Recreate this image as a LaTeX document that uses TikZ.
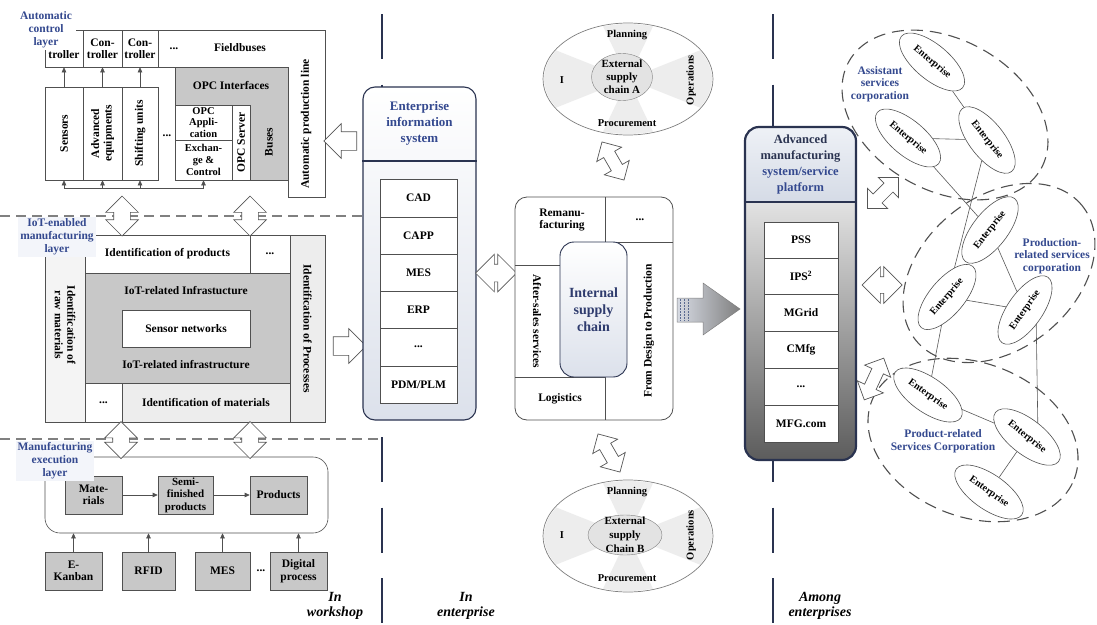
\documentclass[tikz,border=0pt]{standalone}
\usepackage{fontspec}
\setmainfont{Liberation Serif}
\usetikzlibrary{shapes.geometric,shapes.arrows,arrows.meta,backgrounds,calc}
\definecolor{navy}{HTML}{2A3350}
\definecolor{labblue}{HTML}{34498F}
\definecolor{iscblue}{HTML}{2F3C6E}
\definecolor{bd}{HTML}{505050}
\definecolor{gfill}{HTML}{C8C8C8}
\definecolor{lgfill}{HTML}{EDEDED}
\definecolor{labbg}{HTML}{F3F5FA}
\definecolor{entbg}{HTML}{DCE1EB}
\definecolor{arrline}{HTML}{555555}
\definecolor{gaL}{HTML}{D6DAE3}
\definecolor{gaR}{HTML}{7F7F7F}
\definecolor{gaS}{HTML}{5A6A90}
\definecolor{atT}{HTML}{EEF1F6}
\definecolor{atB}{HTML}{D5DBE6}
\definecolor{abT}{HTML}{E2E2E2}
\definecolor{abB}{HTML}{5C5C5C}
\newcommand{\mycell}[7][]{\node[cell,#1,minimum width={#5-#3},minimum height={#6-#4}] (#2) at ({(#3+#5)/2},{(#4+#6)/2}) {#7};}
\begin{document}
\begin{tikzpicture}[x=1pt,y=-1pt,
  txt/.style={font=\fontsize{11.5}{12.5}\selectfont\bfseries, align=center, inner sep=0pt},
  stxt/.style={font=\fontsize{10.5}{12}\selectfont\bfseries, align=center, inner sep=0pt},
  itxt/.style={font=\fontsize{14}{15}\selectfont\bfseries\itshape, align=center, inner sep=0pt},
  cell/.style={draw=bd, line width=0.6pt, fill=white, txt},
  lab/.style={txt, text=labblue, fill=labbg, inner sep=2pt, font=\fontsize{11.5}{13}\selectfont\bfseries},
  sarr/.style={-{Triangle[length=5pt,width=4.5pt]}, draw=bd, line width=0.6pt},
  oarr/.style={draw=arrline, fill=white, line width=0.7pt, inner xsep=0pt},
  vdbl/.style={oarr, double arrow, inner ysep=8pt, minimum width=32pt, double arrow head extend=8pt, rotate=90},
  ent/.style={ellipse, draw=bd, fill=white, line width=0.6pt, minimum width=80pt, minimum height=35pt, inner sep=0pt, font=\fontsize{10}{11}\selectfont\bfseries},
  grp/.style={ellipse, draw=bd, dash pattern=on 12pt off 7pt, line width=1.1pt, inner sep=0pt},
  sepline/.style={draw=navy, line width=2.8pt, dash pattern=on 45pt off 25.5pt},
  hsep/.style={draw=gray, line width=1.1pt, dash pattern=on 10pt off 6pt},
  net/.style={draw=gray!70!black, line width=0.6pt},
  frame/.style={draw=bd, line width=0.6pt}
]
\useasboundingbox (0,0) rectangle (1097,624);
\begin{scope}[on background layer]
\fill[white] (0,0) rectangle (1097,624);
\end{scope}

% separators
\draw[hsep] (0,216) -- (382,216);
\draw[hsep] (0,439) -- (382,439);
\draw[sepline] (382,14) -- (382,624);
\draw[sepline] (773,14) -- (773,624);

% ===== Automatic control layer
\draw[frame] (45,67) -- (45,30) -- (325,30) -- (325,197) -- (288,197) -- (288,67);
\draw[frame] (45,67) -- (175,67);
\mycell{ctlA}{45}{30}{83}{67}{Con-\\troller}
\mycell{ctlB}{83}{30}{122}{67}{Con-\\troller}
\mycell{ctlC}{122}{30}{158}{67}{Con-\\troller}
\node[txt] (fdots) at (174,49) {...};
\node[txt] (fbus) at (240,48) {Fieldbuses};
\mycell[fill=gfill]{opc}{175}{67}{288}{180}{}
\node[txt] (opct) at (231,86) {OPC Interfaces};
\mycell[font=\fontsize{10.5}{11.5}\selectfont\bfseries]{opcapp}{175}{105}{232}{140}{OPC\\Appli-\\cation}
\mycell[font=\fontsize{10.5}{12}\selectfont\bfseries]{exch}{175}{140}{232}{180}{Exchan-\\ge \&\\Control}
\mycell{opcsrv}{232}{105}{250}{180}{}
\node[txt, rotate=90] (opcsrvt) at (opcsrv) {OPC Server};
\node[txt, rotate=90] (buses) at (269,142) {Buses};
\mycell{sens}{45}{87}{83}{180}{}
\node[txt, rotate=90] (senst) at (sens) {Sensors};
\mycell{adv}{83}{87}{122}{180}{}
\node[txt, rotate=90] (advt) at (adv) {Advanced\\equipments};
\mycell{shift}{122}{87}{158}{180}{}
\node[txt, rotate=90] (shiftt) at (shift) {Shifting units};
\node[txt] (sdots) at (167,136) {...};
\node[txt, rotate=90] (apl) at (306,124) {Automatic production line};
\draw[sarr] (sens.north) -- (ctlA.south);
\draw[sarr] (adv.north) -- (ctlB.south);
\draw[sarr] (shift.north) -- (ctlC.south);
\coordinate (busy) at (0,188);
\draw[frame] (sens.south |- busy) -- (exch.south |- busy);
\foreach \n in {sens,adv,shift,exch} \draw[sarr] (\n.south |- busy) -- (\n.south);
\node[lab, fill=white, inner xsep=4pt] (aclab) at (46,30) {Automatic\\control\\layer};

% ===== IoT-enabled layer
\mycell[fill=lgfill!60]{raw}{45}{235}{85}{422}{}
\node[txt, rotate=-90] (rawt) at (65,325) {Identification of\\raw materials};
\mycell{prod}{85}{235}{250}{273}{Identification of products}
\mycell{pdots}{250}{235}{290}{273}{...}
\mycell[fill=lgfill]{proc}{290}{235}{325}{422}{}
\node[txt, rotate=-90] (proct) at (proc) {Identification of Processes};
\mycell[fill=gfill]{iot}{85}{273}{290}{383}{}
\node[txt] (iot1) at (186,291) {IoT-related Infrastucture};
\mycell{sn}{122}{310}{250}{347}{Sensor networks}
\node[txt] (iot2) at (186,365) {IoT-related infrastructure};
\mycell{mdots}{85}{383}{122}{422}{...}
\mycell[fill=lgfill]{mat}{122}{383}{290}{422}{Identification of materials}
\node[lab] (iotlab) at (57,237) {IoT-enabled\\manufacturing\\layer};

% ===== Manufacturing execution layer
\node[draw=bd, line width=0.6pt, rounded corners=15pt, minimum width=283, minimum height=76, fill=white] (mex) at (186.5,495) {};
\mycell[fill=gfill]{mats}{65}{476}{122}{514}{Mate-\\rials}
\mycell[fill=gfill, font=\fontsize{11}{12.5}\selectfont\bfseries]{semi}{158}{476}{213}{514}{Semi-\\finished\\products}
\mycell[fill=gfill]{prods}{250}{476}{307}{514}{Products}
\draw[sarr] (mats) -- (semi);
\draw[sarr] (semi) -- (prods);
\mycell[fill=gfill]{ekan}{45}{552}{102}{590}{E-\\Kanban}
\mycell[fill=gfill]{rfid}{122}{552}{175}{590}{RFID}
\mycell[fill=gfill]{bmes}{195}{552}{250}{590}{MES}
\node[txt] (bdots) at (261,571) {...};
\mycell[fill=gfill]{dig}{270}{552}{327}{590}{Digital\\process}
\foreach \n in {ekan,rfid,bmes,dig} \draw[sarr] (\n.north) -- (\n.north |- mex.south);
\node[lab] (mexlab) at (55,461) {Manufacturing\\execution\\layer};

% vertical double arrows between layers
\node[vdbl, minimum height=40pt] (va1) at (122,216) {};
\node[vdbl, minimum height=40pt] (va2) at (250,216) {};
\node[vdbl, minimum height=37pt] (vb1) at (121,440) {};
\node[vdbl, minimum height=37pt] (vb2) at (250,440) {};

% arrows to/from enterprise system
\node[oarr, single arrow, inner ysep=9pt, minimum height=33pt, minimum width=34pt, single arrow head extend=8pt, rotate=180] (larr) at (345,141) {};
\node[oarr, single arrow, inner ysep=9pt, minimum height=33pt, minimum width=34pt, single arrow head extend=8pt] (rarr) at (345,346) {};

% ===== Enterprise information system
\node[draw=navy, line width=1.1pt, rounded corners=12pt, minimum width=113, minimum height=333, top color=white, bottom color=entbg] (ebox) at (419.5,253.5) {};
\coordinate (etl) at (0,161);
\draw[draw=navy, line width=1.1pt] (ebox.west |- etl) -- (ebox.east |- etl);
\node[txt, text=labblue, font=\fontsize{13}{16}\selectfont\bfseries] (etitle) at (419.5,123) {Enterprise\\information\\system};
\mycell{cad}{380}{179}{457}{217}{CAD}
\mycell{capp}{380}{217}{457}{254}{CAPP}
\mycell{emes}{380}{254}{457}{291}{MES}
\mycell{erp}{380}{291}{457}{328}{ERP}
\mycell{edots}{380}{328}{457}{366}{...}
\mycell{pdm}{380}{366}{457}{403}{PDM/PLM}

\node[oarr, double arrow, inner ysep=8.5pt, minimum height=41pt, minimum width=37pt, double arrow head extend=10pt] (eia) at (496,273) {};

% ===== Internal supply chain
\node[draw=bd, line width=0.8pt, rounded corners=12pt, minimum width=158, minimum height=223, fill=white] (ibox) at (594,308.5) {};
\draw[frame] (605,197) -- (605,242) -- (673,242);
\draw[frame] (515,265) -- (560,265);
\draw[frame] (515,377) -- (605,377) -- (605,420);
\node[draw=navy, line width=0.9pt, rounded corners=14pt, minimum width=67, minimum height=135, top color=white, bottom color=entbg] (isc) at (593.5,309.5) {};
\node[txt, text=iscblue, font=\fontsize{14}{17}\selectfont\bfseries] (isct) at (isc) {Internal\\supply\\chain};
\node[txt] (reman) at (562,220) {Remanu-\\facturing};
\node[txt] (idots) at (640,220) {...};
\node[txt, rotate=-90] (after) at (537,321) {After-sales services};
\node[txt] (logis) at (560,399) {Logistics};
\node[txt, rotate=90] (fdp) at (649,331) {From Design to Production};

% ===== External supply chain A
\node[ellipse, draw=gray, fill=white, line width=0.7pt, minimum width=170, minimum height=112, inner sep=0pt] (scA) at (628,79) {};
\begin{scope}
\clip (628,79) ellipse [x radius=84pt, y radius=55pt];
\fill[gray!14] (628,79) -- (530,40) -- (530,118) -- cycle;
\fill[gray!14] (628,79) -- (726,40) -- (726,118) -- cycle;
\fill[gray!14] (628,79) -- (600,20) -- (656,20) -- cycle;
\fill[gray!14] (628,79) -- (600,138) -- (656,138) -- cycle;
\end{scope}
\node[ellipse, draw=gray, fill=gray!22, minimum width=61, minimum height=47, inner sep=0pt] (scAin) at (622,77) {};
\node[txt, font=\fontsize{11}{13}\selectfont\bfseries] (scAt) at (scAin) {External\\supply\\chain A};
\node[stxt] (planA) at (627,35) {Planning};
\node[stxt] (procA) at (627,123) {Procurement};
\node[stxt, rotate=90] (operA) at (691,80) {Operations};
\node[stxt] (iA) at (562,80) {I};
\node[oarr, double arrow, inner ysep=6pt, minimum height=44pt, minimum width=28pt, double arrow head extend=8pt, rotate=-60] (aarr) at (613,161) {};

% ===== External supply chain B
\node[ellipse, draw=gray, fill=white, line width=0.7pt, minimum width=170, minimum height=112, inner sep=0pt] (scB) at (628,536) {};
\begin{scope}
\clip (628,536) ellipse [x radius=84pt, y radius=55pt];
\fill[gray!14] (628,536) -- (530,497) -- (530,575) -- cycle;
\fill[gray!14] (628,536) -- (726,497) -- (726,575) -- cycle;
\fill[gray!14] (628,536) -- (600,477) -- (656,477) -- cycle;
\fill[gray!14] (628,536) -- (600,595) -- (656,595) -- cycle;
\end{scope}
\node[ellipse, draw=gray, fill=gray!22, minimum width=74, minimum height=40, inner sep=0pt] (scBin) at (625,535) {};
\node[txt, font=\fontsize{11}{14}\selectfont\bfseries] (scBt) at (scBin) {External\\supply\\Chain B};
\node[stxt] (planB) at (627,492) {Planning};
\node[stxt] (procB) at (627,578) {Procurement};
\node[stxt, rotate=90] (operB) at (691,535) {Operations};
\node[stxt] (iB) at (562,535) {I};
\node[oarr, double arrow, inner ysep=6pt, minimum height=44pt, minimum width=28pt, double arrow head extend=8pt, rotate=-60] (barr) at (609,453) {};

% ===== gradient arrow
\shade[left color=gaL, right color=gaR, draw=gray, line width=0.5pt] (677,298) -- (703,298) -- (703,283) -- (740,309) -- (703,335) -- (703,322) -- (677,322) -- cycle;
\foreach \xx in {680,684,688} \draw[draw=gaS, line width=0.5pt, dash pattern=on 2pt off 1pt] (\xx,299) -- (\xx,321);

% ===== Advanced manufacturing system
\begin{scope}
\clip[rounded corners=14pt] (745,127) rectangle (856,460);
\shade[top color=atT, bottom color=atB] (745,127) rectangle (856,202);
\shade[top color=abT, bottom color=abB] (745,202) rectangle (856,460);
\end{scope}
\node[draw=navy, line width=2.2pt, rounded corners=14pt, minimum width=111, minimum height=333] (abox) at (800.5,293.5) {};
\coordinate (atl) at (0,202);
\draw[draw=navy, line width=1.1pt] (abox.west |- atl) -- (abox.east |- atl);
\node[txt, text=navy, font=\fontsize{12.5}{16}\selectfont\bfseries] (atitle) at (800.5,164) {Advanced\\manufacturing\\\textcolor{labblue}{system/service}\\\textcolor{labblue}{platform}};
\mycell{pss}{764}{222}{838}{258}{PSS}
\mycell{ips}{764}{258}{838}{294}{IPS\textsuperscript{2}}
\mycell{mgrid}{764}{294}{838}{331}{MGrid}
\mycell{cmfg}{764}{331}{838}{368}{CMfg}
\mycell{adots}{764}{368}{838}{405}{...}
\mycell{mfg}{764}{405}{838}{442}{MFG.com}

% ===== Enterprise network
\node[grp, minimum width=220, minimum height=151, rotate=-29] (g1) at (945,115) {};
\node[grp, minimum width=214, minimum height=152, rotate=39] (g2) at (999,273) {};
\node[grp, minimum width=217, minimum height=154, rotate=-21] (g3) at (973,440) {};
\node[ent, rotate=-40] (e1) at (932,62) {Enterprise};
\node[ent, rotate=-40] (e2) at (908,138) {Enterprise};
\node[ent, rotate=-52] (e3) at (987,140) {Enterprise};
\node[ent, rotate=52] (e4) at (990,230) {Enterprise};
\node[ent, rotate=50] (e5) at (947,297) {Enterprise};
\node[ent, rotate=55] (e6) at (1025,310) {Enterprise};
\node[ent, rotate=-35] (e7) at (928,395) {Enterprise};
\node[ent, rotate=-38] (e8) at (1027,437) {Enterprise};
\node[ent, rotate=-35] (e9) at (989,492) {Enterprise};
\begin{scope}[on background layer]
\draw[net] (e1) -- (e3);
\draw[net] (e2) -- (e3);
\draw[net] (e2) -- (e4);
\draw[net] (e3) -- (e5);
\draw[net] (e5) -- (e7);
\draw[net] (e4) -- (e6);
\draw[net] (e5) -- (e6);
\draw[net] ([xshift=11pt]e6.center) -- ([xshift=11pt]e8.center);
\draw[net] (e7) -- (e8);
\draw[net] (e8) -- (e9);
\end{scope}
\node[txt, text=labblue, font=\fontsize{11.5}{12.5}\selectfont\bfseries] (g1lab) at (880,84) {Assistant\\services\\corporation};
\node[txt, text=labblue, font=\fontsize{11.5}{12.5}\selectfont\bfseries] (g2lab) at (1052,256) {Production-\\related services\\corporation};
\node[txt, text=labblue, font=\fontsize{11.5}{12.5}\selectfont\bfseries] (g3lab) at (943,441) {Product-related\\Services Corporation};
\node[oarr, double arrow, inner ysep=6pt, minimum height=44pt, minimum width=28pt, double arrow head extend=8pt, rotate=45] (ra1) at (883,193) {};
\node[oarr, double arrow, inner ysep=8pt, minimum height=40pt, minimum width=36pt, double arrow head extend=10pt] (ra2) at (882,285) {};
\node[oarr, double arrow, inner ysep=6pt, minimum height=46pt, minimum width=28pt, double arrow head extend=8pt, rotate=65] (ra3) at (874,379) {};

% ===== bottom labels
\node[itxt] (lw) at (335,606) {In\\workshop};
\node[itxt] (le) at (466,606) {In\\enterprise};
\node[itxt] (la) at (820,606) {Among\\enterprises};
\end{tikzpicture}
\end{document}
